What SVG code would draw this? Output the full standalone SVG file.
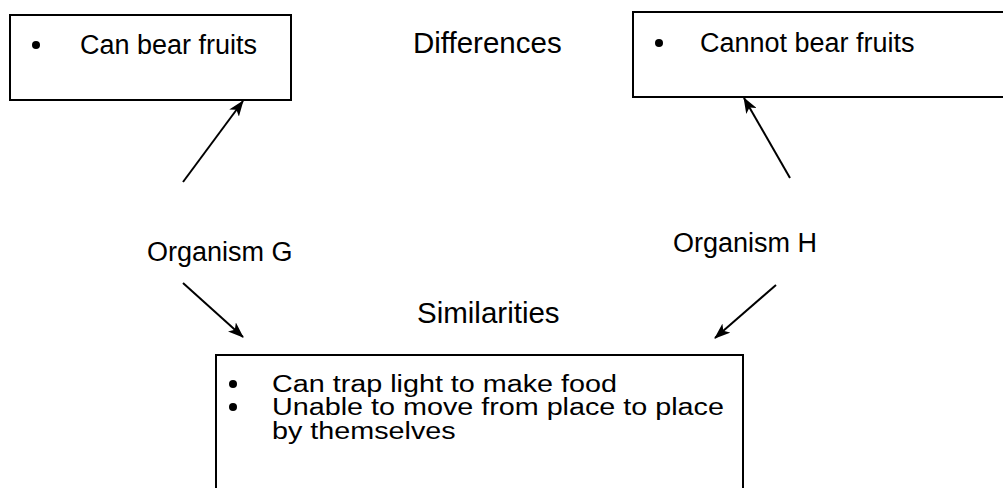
<svg xmlns="http://www.w3.org/2000/svg" width="1003" height="488" viewBox="0 0 1003 488">
<defs>
<marker id="ah" viewBox="0 0 16 12" refX="15" refY="6" markerWidth="16" markerHeight="12" markerUnits="userSpaceOnUse" orient="auto">
<path d="M0,0 L16,6 L0,12 L4,6 Z" fill="#000"/>
</marker>
</defs>
<style>
text{font-family:"Liberation Sans",Arial,sans-serif;font-size:27px;fill:#000}
.head{font-size:29.5px}
.sim{font-size:23px}
.box{fill:#fff;stroke:#000;stroke-width:2}
.arr{stroke:#000;stroke-width:2;fill:none;marker-end:url(#ah)}
</style>
<rect width="1003" height="488" fill="#fff"/>
<g id="box-g">
<rect class="box" x="10" y="15" width="281" height="85"/>
<circle cx="36" cy="45" r="4"/>
<text x="80" y="54">Can bear fruits</text>
</g>
<g id="label-differences">
<text class="head" x="413" y="53">Differences</text>
</g>
<g id="box-h">
<rect class="box" x="633" y="12" width="380" height="85"/>
<circle cx="659" cy="43" r="4"/>
<text x="700" y="52">Cannot bear fruits</text>
</g>
<g id="organism-g">
<text x="147" y="261">Organism G</text>
</g>
<g id="organism-h">
<text x="673" y="252">Organism H</text>
</g>
<g id="label-similarities">
<text class="head" x="417" y="323">Similarities</text>
</g>
<g id="box-sim">
<rect class="box" x="216" y="355" width="527" height="145"/>
<circle cx="233" cy="384" r="4"/>
<circle cx="233" cy="407" r="4"/>
<text class="sim" transform="translate(272,392) scale(1.25,1)">Can trap light to make food</text>
<text class="sim" transform="translate(272,415) scale(1.25,1)">Unable to move from place to place</text>
<text class="sim" transform="translate(272,439) scale(1.25,1)">by themselves</text>
</g>
<g id="connectors">
<line class="arr" x1="183" y1="182" x2="243" y2="101"/>
<line class="arr" x1="183" y1="283" x2="243" y2="337"/>
<line class="arr" x1="790" y1="178" x2="744" y2="98"/>
<line class="arr" x1="776" y1="285" x2="715" y2="338"/>
</g>
</svg>
